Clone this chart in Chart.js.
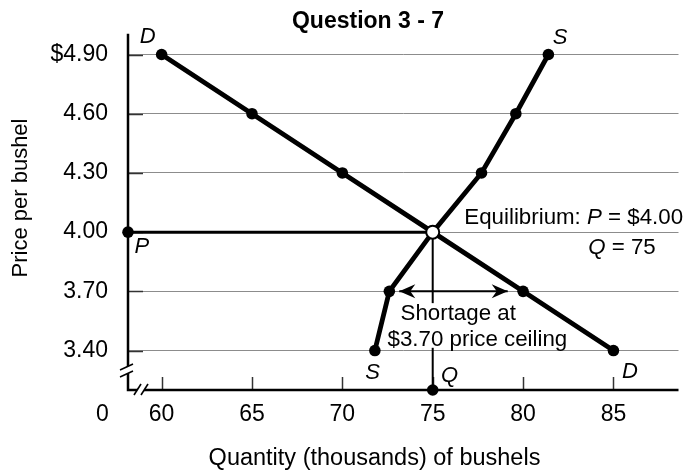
<!DOCTYPE html>
<html>
<head>
<meta charset="utf-8">
<script src="https://cdn.jsdelivr.net/npm/chart.js@4.4.1/dist/chart.umd.min.js"></script>
<style>
html,body{margin:0;padding:0;background:#fff;}
#wrap{width:687px;height:476px;}
</style>
</head>
<body>
<div id="wrap"><canvas id="c" width="687" height="476"></canvas></div>
<script>
// ---- data ----
const demandQty   = [60, 65, 70, 75, 80, 85];
const demandPrice = [4.90, 4.60, 4.30, 4.00, 3.70, 3.40];
const supplyQty   = [71.8, 72.6, 75, 77.7, 79.6, 81.4];
const supplyPrice = [3.40, 3.70, 4.00, 4.30, 4.60, 4.90];
const priceTicks  = [3.40, 3.70, 4.00, 4.30, 4.60, 4.90];
const qtyTicks    = [60, 65, 70, 75, 80, 85];
const equilibriumQty = 75;
const equilibriumPrice = 4.00;
const ceilingPrice = 3.70;
const shortageRange = [73.15, 79.15];
const qtyRange   = [58.14, 88.6];
const priceRange = [3.20, 5.005];

const FONT = "'Liberation Sans', Arial, Helvetica, sans-serif";
Chart.defaults.font.family = FONT;
Chart.defaults.color = '#000';

const pts = (xs, ys) => xs.map((x, i) => ({x: x, y: ys[i]}));

// annotation anchors in data coordinates
const letterLabels = [
  {text: 'D', q: 59.23, p: 4.99},
  {text: 'S', q: 82.05, p: 4.985},
  {text: 'P', q: 58.90, p: 3.923},
  {text: 'S', q: 71.68, p: 3.285},
  {text: 'Q', q: 75.93, p: 3.270},
  {text: 'D', q: 85.92, p: 3.290}
];

const decor = {
  id: 'decor',
  beforeDatasetsDraw(chart) {
    const {ctx, chartArea: a, scales: {x, y}} = chart;
    ctx.save();
    // inward tick marks on price axis
    ctx.strokeStyle = '#333';
    ctx.lineWidth = 1.5;
    priceTicks.forEach(v => {
      const py = Math.round(y.getPixelForValue(v)) + 0.5;
      ctx.beginPath(); ctx.moveTo(a.left, py); ctx.lineTo(a.left + 15, py); ctx.stroke();
    });
    // upward tick marks on quantity axis
    qtyTicks.forEach(v => {
      const px = Math.round(x.getPixelForValue(v)) + 0.5;
      ctx.beginPath(); ctx.moveTo(px, a.bottom); ctx.lineTo(px, a.bottom - 13); ctx.stroke();
    });
    // axes
    ctx.strokeStyle = '#000';
    ctx.lineWidth = 2.5;
    ctx.beginPath();
    ctx.moveTo(a.left, a.top);
    ctx.lineTo(a.left, a.bottom);
    ctx.lineTo(a.right, a.bottom);
    ctx.stroke();
    // axis breaks
    const L = a.left, B = a.bottom;
    ctx.fillStyle = '#fff';
    ctx.beginPath();
    ctx.moveTo(L - 8, B - 20); ctx.lineTo(L + 5, B - 26); ctx.lineTo(L + 5, B - 19); ctx.lineTo(L - 8, B - 13); ctx.closePath();
    ctx.fill();
    ctx.beginPath();
    ctx.moveTo(L + 6, B + 5); ctx.lineTo(L + 13, B - 6); ctx.lineTo(L + 20, B - 6); ctx.lineTo(L + 13, B + 5); ctx.closePath();
    ctx.fill();
    ctx.strokeStyle = '#000';
    ctx.lineWidth = 1.6;
    [[L - 8, B - 20, L + 5, B - 26], [L - 8, B - 13, L + 5, B - 19],
     [L + 6, B + 5, L + 13, B - 6], [L + 13, B + 5, L + 20, B - 6]].forEach(s => {
      ctx.beginPath(); ctx.moveTo(s[0], s[1]); ctx.lineTo(s[2], s[3]); ctx.stroke();
    });
    ctx.restore();
  },
  afterDatasetsDraw(chart) {
    const {ctx, scales: {x, y}} = chart;
    ctx.save();
    // arrow heads on the shortage arrow
    const ay = y.getPixelForValue(ceilingPrice);
    const head = (tipX, dir) => {
      ctx.beginPath();
      ctx.moveTo(tipX, ay);
      ctx.lineTo(tipX + dir * 16, ay - 7);
      ctx.lineTo(tipX + dir * 11, ay);
      ctx.lineTo(tipX + dir * 16, ay + 7);
      ctx.closePath();
      ctx.fill();
    };
    ctx.fillStyle = '#000';
    head(x.getPixelForValue(shortageRange[0]), 1);
    head(x.getPixelForValue(shortageRange[1]), -1);

    // shortage text with white backing
    ctx.font = '22.3px ' + FONT;
    ctx.textAlign = 'left';
    ctx.textBaseline = 'alphabetic';
    const t1 = 'Shortage at', t2 = '$3.70 price ceiling';
    const x1 = x.getPixelForValue(73.22), y1 = y.getPixelForValue(3.554);
    const x2 = x.getPixelForValue(72.50), y2 = y.getPixelForValue(3.424);
    ctx.fillStyle = '#fff';
    ctx.fillRect(x1 - 1, y1 - 17, ctx.measureText(t1).width + 2, 25);
    ctx.fillRect(x2 - 1, y2 - 18, ctx.measureText(t2).width + 2, 20);
    ctx.fillStyle = '#000';
    ctx.fillText(t1, x1, y1);
    ctx.fillText(t2, x2, y2);

    // rich text helper
    const rich = (parts, px, py, align) => {
      let w = 0;
      parts.forEach(p => { ctx.font = (p[1] ? 'italic ' : '') + '22.3px ' + FONT; w += ctx.measureText(p[0]).width; });
      let cx = align === 'right' ? px - w : px;
      ctx.textAlign = 'left';
      parts.forEach(p => {
        ctx.font = (p[1] ? 'italic ' : '') + '22.3px ' + FONT;
        ctx.fillText(p[0], cx, py);
        cx += ctx.measureText(p[0]).width;
      });
    };
    rich([['Equilibrium: ', false], ['P', true], [' = $4.00', false]],
         x.getPixelForValue(76.75), y.getPixelForValue(4.043), 'left');
    rich([['Q', true], [' = 75', false]],
         x.getPixelForValue(87.34), y.getPixelForValue(3.888), 'right');

    // italic curve / point letters
    ctx.font = 'italic 22px ' + FONT;
    ctx.textAlign = 'center';
    ctx.textBaseline = 'middle';
    letterLabels.forEach(l => ctx.fillText(l.text, x.getPixelForValue(l.q), y.getPixelForValue(l.p)));
    ctx.restore();
  },
  afterDraw(chart) {
    const {ctx} = chart;
    ctx.save();
    ctx.fillStyle = '#000';
    ctx.textBaseline = 'alphabetic';
    ctx.textAlign = 'center';
    ctx.font = 'bold 23px ' + FONT;
    ctx.fillText('Question 3 - 7', 368, 28);
    ctx.font = '23.5px ' + FONT;
    ctx.fillText('Quantity (thousands) of bushels', 374.5, 465);
    ctx.font = '23px ' + FONT;
    ctx.fillText('0', 102.5, 420.5);
    ctx.font = '22px ' + FONT;
    ctx.translate(26.7, 198);
    ctx.rotate(-Math.PI / 2);
    ctx.fillText('Price per bushel', 0, 0);
    ctx.restore();
  }
};

const baseLine = {showLine: true, borderColor: '#000', pointBackgroundColor: '#000',
  pointBorderWidth: 0, clip: false, fill: false, tension: 0};

new Chart(document.getElementById('c'), {
  type: 'scatter',
  data: {
    datasets: [
      {label: 'Equilibrium', data: [{x: equilibriumQty, y: equilibriumPrice}], showLine: false,
        pointRadius: 6.5, pointBackgroundColor: '#fff', pointBorderColor: '#000', pointBorderWidth: 2, clip: false},
      Object.assign({label: 'Demand', data: pts(demandQty, demandPrice), borderWidth: 4.8, pointRadius: 5.8}, baseLine),
      Object.assign({label: 'Supply', data: pts(supplyQty, supplyPrice), borderWidth: 4.8, pointRadius: 5.8}, baseLine),
      Object.assign({label: 'Price', data: [{x: qtyRange[0], y: equilibriumPrice}, {x: equilibriumQty, y: equilibriumPrice}],
        borderWidth: 3, pointRadius: [5.8, 0]}, baseLine),
      Object.assign({label: 'Quantity', data: [{x: equilibriumQty, y: equilibriumPrice}, {x: equilibriumQty, y: priceRange[0]}],
        borderWidth: 2, pointRadius: [0, 5.8]}, baseLine),
      Object.assign({label: 'Shortage', data: [{x: shortageRange[0], y: ceilingPrice}, {x: shortageRange[1], y: ceilingPrice}],
        borderWidth: 2, pointRadius: 0}, baseLine)
    ]
  },
  options: {
    responsive: false,
    devicePixelRatio: 1,
    animation: false,
    layout: {padding: {top: 28, right: 1, left: 0, bottom: 0}},
    plugins: {legend: {display: false}, title: {display: false}, tooltip: {enabled: false}},
    events: [],
    scales: {
      x: {
        type: 'linear', min: qtyRange[0], max: qtyRange[1],
        afterBuildTicks: s => { s.ticks = qtyTicks.map(v => ({value: v})); },
        afterFit: s => { s.height = 86; },
        grid: {display: false, drawTicks: false},
        border: {display: false},
        ticks: {font: {size: 23}, color: '#000', padding: 11, maxRotation: 0, autoSkip: false}
      },
      y: {
        type: 'linear', min: priceRange[0], max: priceRange[1],
        afterBuildTicks: s => { s.ticks = priceTicks.map(v => ({value: v})); },
        afterFit: s => { s.width = 128; },
        grid: {color: '#8c8c8c', lineWidth: 1, drawTicks: false},
        border: {display: false},
        ticks: {font: {size: 23}, color: '#000', padding: 20, autoSkip: false,
          callback: (v, i, arr) => (i === arr.length - 1 ? '$' : '') + Number(v).toFixed(2)}
      }
    }
  },
  plugins: [decor]
});
</script>
</body>
</html>
